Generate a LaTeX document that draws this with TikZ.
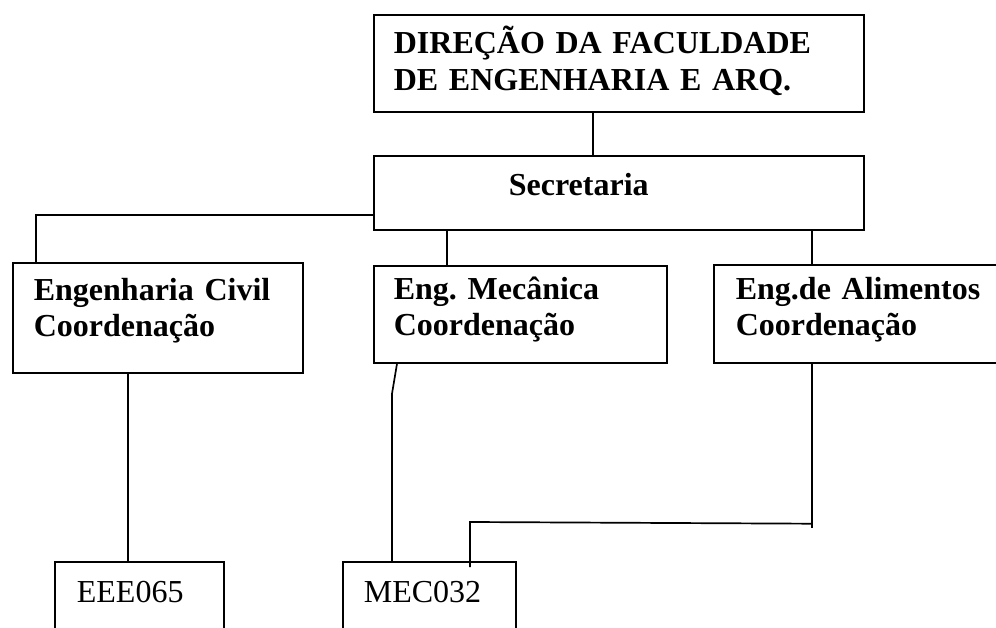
\documentclass[tikz,border=0pt]{standalone}
\usepackage{fontspec}
\setmainfont{Liberation Serif}
\frenchspacing
\begin{document}
\begin{tikzpicture}[x=1pt,y=-1pt,line width=1.7pt,
  orgbox/.style={draw,rectangle,anchor=north west,align=left,inner ysep=0pt,
    font=\bfseries\fontsize{32}{36}\selectfont},
  codebox/.style={draw,rectangle,anchor=north west,align=left,inner ysep=0pt,
    font=\fontsize{32}{36}\selectfont}]
\useasboundingbox (0,0) rectangle (996,628);
\clip (0,0) rectangle (996,628);
\fill[white] (0,0) rectangle (996,628);

\node[orgbox,inner xsep=20pt,text width=450pt,text height=39pt,text depth=58pt,
  font=\bfseries\fontsize{32}{37}\selectfont] (dir) at (373,14)
  {DIREÇÃO DA FACULDADE\\DE ENGENHARIA E ARQ.};
\node[orgbox,inner xsep=135pt,text width=220pt,text height=40pt,text depth=34pt] (sec) at (373,155) {Secretaria};
\node[orgbox,inner xsep=21pt,text width=248pt,text height=38pt,text depth=72pt] (civ) at (12,262)
  {Engenharia Civil\\Coordenação};
\node[orgbox,inner xsep=20pt,text width=253pt,text height=34pt,text depth=63pt] (mec) at (373,265)
  {Eng. Mecânica\\Coordenação};
\node[orgbox,inner xsep=22pt,text width=256pt,text height=35pt,text depth=63pt] (ali) at (713,264)
  {Eng.de Alimentos\\Coordenação};
\node[codebox,inner xsep=22pt,text width=125pt,text height=41pt,text depth=80pt] (eee) at (54,561) {EEE065};
\node[codebox,inner xsep=21pt,text width=131pt,text height=41pt,text depth=80pt] (mecb) at (342,561) {MEC032};

% connectors
\draw ([xshift=220pt]dir.south west) -- ([xshift=220pt]sec.north west);
\draw ([yshift=-60pt]sec.north west) -| ([xshift=24pt]civ.north west);
\draw ([xshift=74pt]sec.south west) -- ([xshift=74pt]mec.north west);
\draw ([xshift=439pt]sec.south west) -- ([xshift=99pt]ali.north west);
\draw ([xshift=116pt]civ.south west) -- ([xshift=74pt]eee.north west);
\draw ([xshift=24pt]mec.south west) -- ([xshift=19pt,yshift=-30pt]mec.south west)
  -- ([xshift=50pt]mecb.north west);
\draw ([xshift=99pt]ali.south west) -- ([xshift=99pt,yshift=-164pt]ali.south west);
\draw ([xshift=99pt,yshift=-160pt]ali.south west) -- ([xshift=128pt,yshift=39pt]mecb.north west)
  -- ([xshift=128pt,yshift=-6pt]mecb.north west);
\end{tikzpicture}
\end{document}
